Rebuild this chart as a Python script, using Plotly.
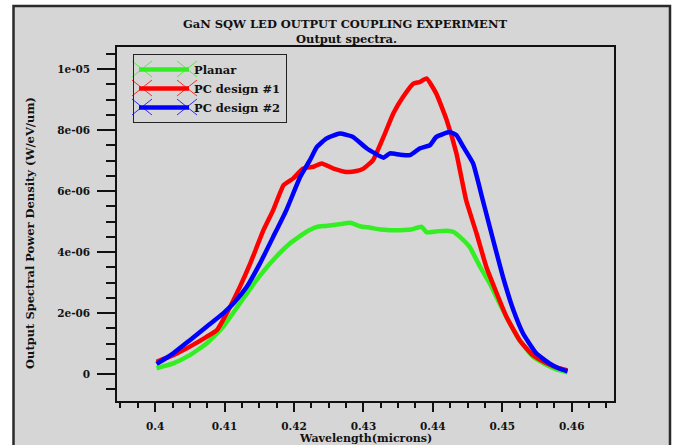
import plotly.graph_objects as go

# ---------------- data ----------------
wl_planar = [0.4002, 0.4026, 0.4050, 0.4074, 0.4098, 0.4122, 0.4146, 0.4170, 0.4194, 0.4218,
             0.4233, 0.4245, 0.4257, 0.4268, 0.4281, 0.4295, 0.4310, 0.4324, 0.4338, 0.4353,
             0.4368, 0.4384, 0.4391, 0.4405, 0.4420, 0.4430, 0.4439, 0.4453, 0.4468, 0.4482,
             0.4496, 0.4511, 0.4525, 0.4544, 0.4564, 0.4580, 0.4594]
pw_planar = [0.19, 0.35, 0.62, 1.00, 1.55, 2.32, 3.08, 3.74, 4.28, 4.67,
             4.83, 4.86, 4.89, 4.92, 4.96, 4.85, 4.80, 4.74, 4.72, 4.72,
             4.74, 4.83, 4.65, 4.68, 4.70, 4.66, 4.50, 4.17, 3.52, 2.97,
             2.32, 1.66, 1.11, 0.57, 0.30, 0.14, 0.06]

wl_pc1 = [0.4002, 0.4026, 0.4050, 0.4074, 0.4089, 0.4103, 0.4122, 0.4137, 0.4156, 0.4170,
          0.4185, 0.4199, 0.4213, 0.4228, 0.4240, 0.4257, 0.4276, 0.4290, 0.4300, 0.4314,
          0.4329, 0.4343, 0.4357, 0.4372, 0.4381, 0.4391, 0.4405, 0.4420, 0.4434, 0.4448,
          0.4463, 0.4477, 0.4492, 0.4506, 0.4525, 0.4544, 0.4564, 0.4580, 0.4594]
pw_pc1 = [0.40, 0.62, 0.90, 1.22, 1.44, 1.99, 2.86, 3.63, 4.72, 5.38,
          6.20, 6.42, 6.74, 6.80, 6.91, 6.74, 6.63, 6.66, 6.74, 7.02,
          7.78, 8.55, 9.09, 9.53, 9.58, 9.70, 9.20, 8.33, 7.24, 5.70,
          4.61, 3.52, 2.65, 1.88, 1.11, 0.62, 0.35, 0.20, 0.12]

wl_pc2 = [0.4002, 0.4026, 0.4050, 0.4074, 0.4098, 0.4113, 0.4132, 0.4151, 0.4170, 0.4189,
          0.4209, 0.4223, 0.4233, 0.4247, 0.4266, 0.4285, 0.4305, 0.4329, 0.4338, 0.4352,
          0.4367, 0.4381, 0.4396, 0.4405, 0.4424, 0.4434, 0.4444, 0.4458, 0.4472, 0.4487,
          0.4501, 0.4516, 0.4530, 0.4549, 0.4568, 0.4582, 0.4594]
pw_pc2 = [0.33, 0.68, 1.11, 1.55, 1.99, 2.32, 2.86, 3.63, 4.50, 5.38,
          6.47, 7.02, 7.45, 7.73, 7.89, 7.78, 7.40, 7.10, 7.24, 7.20,
          7.18, 7.40, 7.51, 7.78, 7.94, 7.84, 7.45, 6.91, 5.70, 4.39,
          3.19, 2.10, 1.33, 0.68, 0.35, 0.18, 0.09]
SCALE = 1e-6  # values above are in units of 1e-6 W/eV/um

series_names = ["Planar", "PC design #1", "PC design #2"]
series_colors = ["#33ee22", "#ff0000", "#0000ff"]

x_tick_vals = [0.40, 0.41, 0.42, 0.43, 0.44, 0.45, 0.46]
x_tick_text = ["0.4", "0.41", "0.42", "0.43", "0.44", "0.45", "0.46"]
y_tick_vals = [0, 2e-6, 4e-6, 6e-6, 8e-6, 1e-5]
y_tick_text = ["0", "2e-06", "4e-06", "6e-06", "8e-06", "1e-05"]

title_line1 = "GaN SQW LED OUTPUT COUPLING EXPERIMENT"
title_line2 = "Output spectra."
x_title = "Wavelength(microns)"
y_title = "Output Spectral Power Density (W/eV/um)"

# ---------------- layout geometry ----------------
W, H = 676, 445
L, R, T, B = 117, 614, 47, 401


def px(x):
    return (x - L) / (R - L)


def py(y):
    return (B - y) / (B - T)


FONT = "DejaVu Serif"
TXT = "#111111"

fig = go.Figure()
for wl, pw, name, col in zip([wl_planar, wl_pc1, wl_pc2],
                             [pw_planar, pw_pc1, pw_pc2],
                             series_names, series_colors):
    fig.add_trace(go.Scatter(x=wl, y=[v * SCALE for v in pw], mode="lines", name=name,
                             line=dict(color=col, width=4.5, shape="spline", smoothing=0.4)))

axis_common = dict(showline=True, mirror=True, linecolor=TXT, linewidth=1.5,
                   showgrid=False, zeroline=False, ticks="outside", tickcolor=TXT,
                   tickwidth=2, automargin=False,
                   tickfont=dict(family=FONT, size=10.5, color=TXT, weight="bold"))

fig.update_xaxes(range=[0.3945, 0.4661], tickmode="array", tickvals=x_tick_vals,
                 ticktext=x_tick_text, ticklen=9, ticklabelstandoff=6,
                 minor=dict(dtick=0.0025, tick0=0.4, ticklen=5, tickwidth=1.5,
                            tickcolor=TXT, ticks="outside"),
                 **axis_common)
fig.update_yaxes(range=[-0.885e-6, 1.073e-5], tickmode="array", tickvals=y_tick_vals,
                 ticktext=y_tick_text, ticklen=18, ticklabelstandoff=5,
                 minor=dict(dtick=5e-7, tick0=0, ticklen=9, tickwidth=1.5,
                            tickcolor=TXT, ticks="outside"),
                 **axis_common)

# decorative "X" glyphs at both ends of each legend line (legend styling only)
LEG_ROWS = [69, 88, 107]      # pixel centres of the legend rows
LEG_X_CENTRES = [142, 187]    # pixel centres of the X glyphs
legend_deco = []
for yc, col in zip(LEG_ROWS, series_colors):
    for xc in LEG_X_CENTRES:
        for sgn in (1, -1):
            legend_deco.append(dict(type="line", xref="paper", yref="paper", layer="above",
                                    x0=px(xc - 10), x1=px(xc + 10),
                                    y0=py(yc - 8 * sgn), y1=py(yc + 8 * sgn),
                                    line=dict(color=col, width=0.8)))

fig.update_layout(
    width=W, height=H,
    margin=dict(l=L, r=W - R, t=T, b=H - B, pad=0, autoexpand=False),
    paper_bgcolor="white", plot_bgcolor="white",
    showlegend=True,
    legend=dict(x=px(133), y=py(54), xanchor="left", yanchor="top",
                bgcolor="rgba(255,255,255,0)", bordercolor="#222222", borderwidth=1,
                font=dict(family=FONT, size=11.5, color=TXT, weight="bold"),
                tracegroupgap=0, itemwidth=50),
    shapes=[dict(type="rect", xref="paper", yref="paper", layer="below",
                 x0=px(13.5), x1=px(670), y0=py(470), y1=py(6),
                 fillcolor="#d6d6d6", line=dict(color="#2a2a2a", width=2.5))] + legend_deco,
    annotations=[
        dict(text=title_line1, xref="paper", yref="paper", x=px(345), y=py(24),
             showarrow=False, xanchor="center", yanchor="middle",
             font=dict(family=FONT, size=11.5, color=TXT, weight="bold")),
        dict(text=title_line2, xref="paper", yref="paper", x=px(346), y=py(39),
             showarrow=False, xanchor="center", yanchor="middle",
             font=dict(family=FONT, size=11.5, color=TXT, weight="bold")),
        dict(text=x_title, xref="paper", yref="paper", x=px(365), y=py(438.5),
             showarrow=False, xanchor="center", yanchor="middle",
             font=dict(family=FONT, size=11, color=TXT, weight="bold")),
        dict(text=y_title, xref="paper", yref="paper", x=px(30), y=py(233),
             showarrow=False, xanchor="center", yanchor="middle", textangle=-90,
             font=dict(family=FONT, size=11.5, color=TXT, weight="bold")),
    ],
)

fig.write_html("out.html")
